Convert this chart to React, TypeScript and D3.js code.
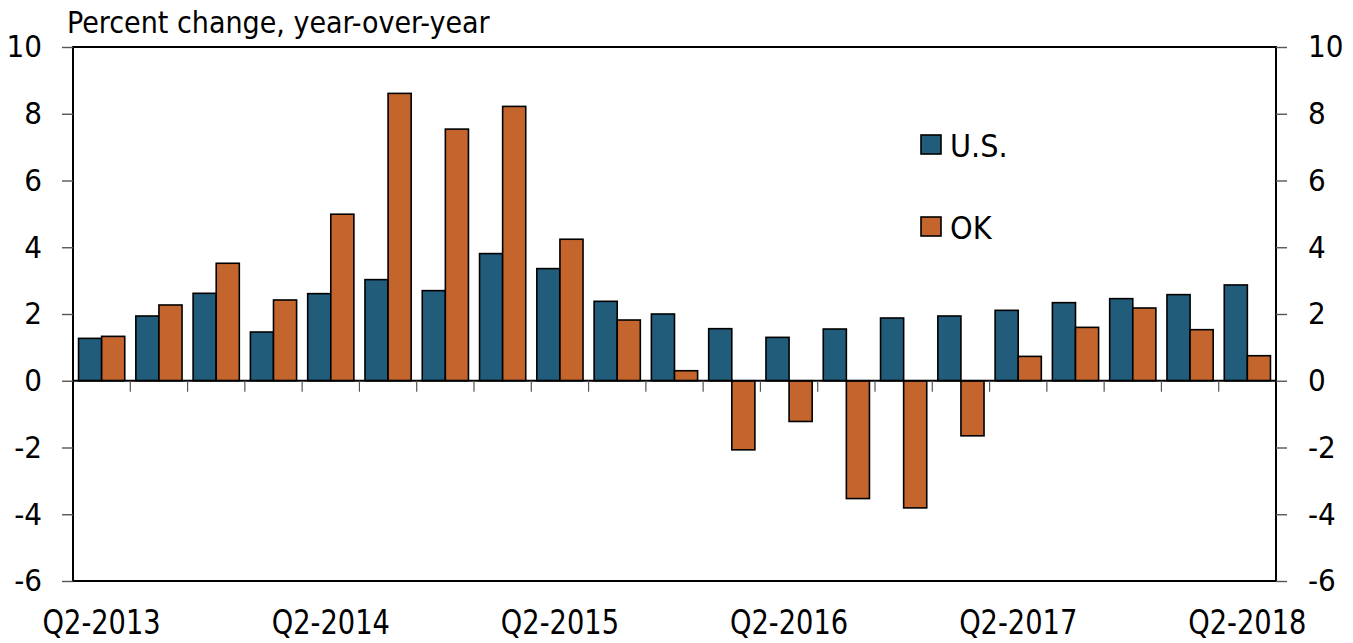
import { useRef, useEffect } from 'react';
import * as d3 from 'd3';

const quarters = [
  'Q2-2013', 'Q3-2013', 'Q4-2013', 'Q1-2014',
  'Q2-2014', 'Q3-2014', 'Q4-2014', 'Q1-2015',
  'Q2-2015', 'Q3-2015', 'Q4-2015', 'Q1-2016',
  'Q2-2016', 'Q3-2016', 'Q4-2016', 'Q1-2017',
  'Q2-2017', 'Q3-2017', 'Q4-2017', 'Q1-2018',
  'Q2-2018',
];
const usValues = [
  1.27, 1.94, 2.62, 1.46, 2.61, 3.03, 2.70, 3.81, 3.36, 2.38, 2.00,
  1.56, 1.30, 1.55, 1.88, 1.94, 2.11, 2.34, 2.46, 2.58, 2.87,
];
const okValues = [
  1.33, 2.27, 3.52, 2.42, 4.99, 8.61, 7.54, 8.22, 4.24, 1.82, 0.30,
  -2.07, -1.22, -3.53, -3.81, -1.65, 0.73, 1.60, 2.18, 1.53, 0.75,
];
const series = ['U.S.', 'OK'];
const yTicks = [10, 8, 6, 4, 2, 0, -2, -4, -6];
const xLabels = ['Q2-2013', 'Q2-2014', 'Q2-2015', 'Q2-2016', 'Q2-2017', 'Q2-2018'];
const title = 'Percent change, year-over-year';

const colors = { 'U.S.': '#215C7A', OK: '#C4652D' };
const font = '"Liberation Sans Narrow", "DejaVu Sans Condensed", sans-serif';

export default function App() {
  const svgRef = useRef<SVGSVGElement>(null);

  useEffect(() => {
    if (!svgRef.current) return;
    document.body.style.margin = '0';

    const width = 1353;
    const height = 643;
    const margin = { top: 47, right: 77, bottom: 62, left: 73 };

    const svg = d3.select(svgRef.current);
    svg.selectAll('*').remove();
    svg.attr('width', width).attr('height', height);

    const x = d3.scaleBand()
      .domain(quarters)
      .range([margin.left, width - margin.right])
      .padding(0);

    const xSub = d3.scaleBand()
      .domain(series)
      .range([0, x.bandwidth()])
      .paddingInner(0)
      .paddingOuter(0.24);

    const y = d3.scaleLinear()
      .domain([-6, 10])
      .range([height - margin.bottom, margin.top]);

    const rows = quarters.map((q, i) => ({ q, values: [
      { key: 'U.S.', v: usValues[i] },
      { key: 'OK', v: okValues[i] },
    ] }));

    // Bars
    svg.append('g')
      .selectAll('g')
      .data(rows)
      .join('g')
      .attr('transform', d => `translate(${x(d.q)},0)`)
      .selectAll('rect')
      .data(d => d.values)
      .join('rect')
      .attr('x', d => xSub(d.key))
      .attr('y', d => y(Math.max(0, d.v)))
      .attr('width', xSub.bandwidth())
      .attr('height', d => Math.abs(y(d.v) - y(0)))
      .attr('fill', d => colors[d.key])
      .attr('stroke', '#000')
      .attr('stroke-width', 1.6);

    // Zero line + category ticks
    svg.append('line')
      .attr('x1', margin.left).attr('x2', width - margin.right)
      .attr('y1', y(0)).attr('y2', y(0))
      .attr('stroke', '#000').attr('stroke-width', 1.8);

    svg.append('g')
      .selectAll('line')
      .data(quarters.slice(1))
      .join('line')
      .attr('x1', d => x(d)).attr('x2', d => x(d))
      .attr('y1', y(0)).attr('y2', y(0) + 11)
      .attr('stroke', '#555').attr('stroke-width', 1.2);

    // Frame
    svg.append('rect')
      .attr('x', margin.left).attr('y', margin.top)
      .attr('width', width - margin.left - margin.right)
      .attr('height', height - margin.top - margin.bottom)
      .attr('fill', 'none')
      .attr('stroke', '#000')
      .attr('stroke-width', 2);

    const fmt = (d: number) => String(d);

    // Left axis
    svg.append('g')
      .attr('transform', `translate(${margin.left},0)`)
      .call(d3.axisLeft(y).tickValues(yTicks).tickSize(11).tickPadding(20).tickFormat(fmt))
      .call(g => g.select('.domain').remove())
      .call(g => g.selectAll('.tick line').attr('stroke', '#555').attr('stroke-width', 1.4))
      .call(g => g.selectAll('.tick text').attr('fill', '#000').attr('font-size', '31px').attr('font-family', font));

    // Right axis
    svg.append('g')
      .attr('transform', `translate(${width - margin.right},0)`)
      .call(d3.axisRight(y).tickValues(yTicks).tickSize(11).tickPadding(21).tickFormat(fmt))
      .call(g => g.select('.domain').remove())
      .call(g => g.selectAll('.tick line').attr('stroke', '#555').attr('stroke-width', 1.4))
      .call(g => g.selectAll('.tick text').attr('fill', '#000').attr('font-size', '31px').attr('font-family', font));

    // X labels
    svg.append('g')
      .selectAll('text')
      .data(xLabels)
      .join('text')
      .attr('transform', d => `translate(${x(d) + x.bandwidth() / 2},634) scale(0.92,1)`)
      .attr('text-anchor', 'middle')
      .attr('font-size', '33px')
      .attr('font-family', font)
      .attr('fill', '#000')
      .text(d => d);

    // Title
    svg.append('text')
      .attr('x', 67)
      .attr('y', 33)
      .attr('font-size', '30px')
      .attr('font-family', font)
      .attr('fill', '#000')
      .text(title);

    // Legend
    const legend = svg.append('g')
      .selectAll('g')
      .data(series)
      .join('g')
      .attr('transform', (d, i) => `translate(921,${135 + i * 82})`);

    legend.append('rect')
      .attr('width', 20).attr('height', 19)
      .attr('fill', d => colors[d])
      .attr('stroke', '#000')
      .attr('stroke-width', 1.6);

    legend.append('text')
      .attr('x', 29)
      .attr('y', 10)
      .attr('dy', '0.36em')
      .attr('font-size', '32px')
      .attr('font-family', font)
      .attr('fill', '#000')
      .text(d => d);
  }, []);

  return <svg ref={svgRef} style={{ display: 'block' }} />;
}
